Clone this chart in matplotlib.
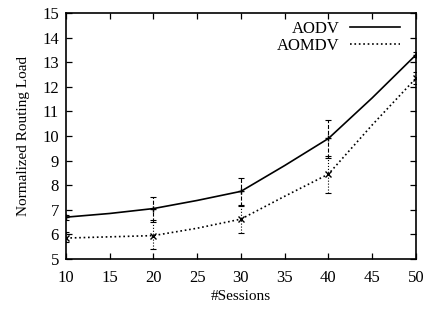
"""Normalized routing load vs number of sessions, AODV vs AOMDV."""

import matplotlib

matplotlib.use("Agg")
import matplotlib.pyplot as plt
import numpy as np

sessions = [10, 15, 20, 25, 30, 35, 40, 45, 50]
aodv_load = [6.7, 6.85, 7.05, 7.38, 7.75, 8.8, 9.9, 11.55, 13.3]
aomdv_load = [5.85, 5.9, 5.95, 6.25, 6.62, 7.55, 8.45, 10.45, 12.35]

err_sessions = [10, 20, 30, 40, 50]
aodv_err_mid = [6.7, 7.05, 7.75, 9.9, 13.3]
aodv_err_lo = [6.6, 6.5, 7.15, 9.1, 13.2]
aodv_err_hi = [6.8, 7.5, 8.3, 10.65, 13.4]
aomdv_err_mid = [5.85, 5.95, 6.62, 8.45, 12.35]
aomdv_err_lo = [5.7, 5.4, 6.05, 7.7, 12.1]
aomdv_err_hi = [6.1, 6.6, 7.2, 9.2, 12.6]

x_ticks = [10, 15, 20, 25, 30, 35, 40, 45, 50]
y_ticks = list(range(5, 16))

plt.rcParams["font.family"] = ["Liberation Serif", "DejaVu Serif"]
plt.rcParams["font.size"] = 12

fig = plt.figure(figsize=(4.31, 3.12), dpi=100)
ax = fig.add_axes([0.153, 0.170, 0.812, 0.788])

ax.plot(sessions, aodv_load, "-", color="black", linewidth=1.2, label="AODV")
ax.plot(sessions, aomdv_load, ":", color="black", linewidth=1.2, label="AOMDV")

for mid, lo, hi, style, marker in [
    (aodv_err_mid, aodv_err_lo, aodv_err_hi, "--", "+"),
    (aomdv_err_mid, aomdv_err_lo, aomdv_err_hi, ":", "x"),
]:
    mid = np.array(mid)
    yerr = [mid - np.array(lo), np.array(hi) - mid]
    _, caps, bars = ax.errorbar(
        err_sessions, mid, yerr=yerr, fmt="none", ecolor="black",
        elinewidth=0.8, capsize=2.0, capthick=0.8,
    )
    for b in bars:
        b.set_linestyle(style)
    ax.plot(err_sessions, mid, linestyle="none", marker=marker, color="black",
            markersize=5, markeredgewidth=1.0)

ax.set_xlim(10, 50)
ax.set_ylim(5, 15)
ax.set_xticks(x_ticks)
ax.set_yticks(y_ticks)
ax.tick_params(direction="in", length=4, width=0.9, top=True, right=True)
ax.tick_params(axis="x", pad=8)
ax.tick_params(axis="y", pad=5)
for spine in ax.spines.values():
    spine.set_linewidth(1.2)

ax.set_xlabel("#Sessions", fontsize=11, labelpad=3)
ax.set_ylabel("Normalized Routing Load", fontsize=11, labelpad=9)

leg = ax.legend(loc="upper right", frameon=False, markerfirst=False,
                handlelength=3.0, handletextpad=0.6, labelspacing=0.1,
                borderaxespad=0.25, borderpad=0.2, fontsize=12,
                bbox_to_anchor=(0.975, 1.0))

fig.savefig("out.png", dpi=100)
